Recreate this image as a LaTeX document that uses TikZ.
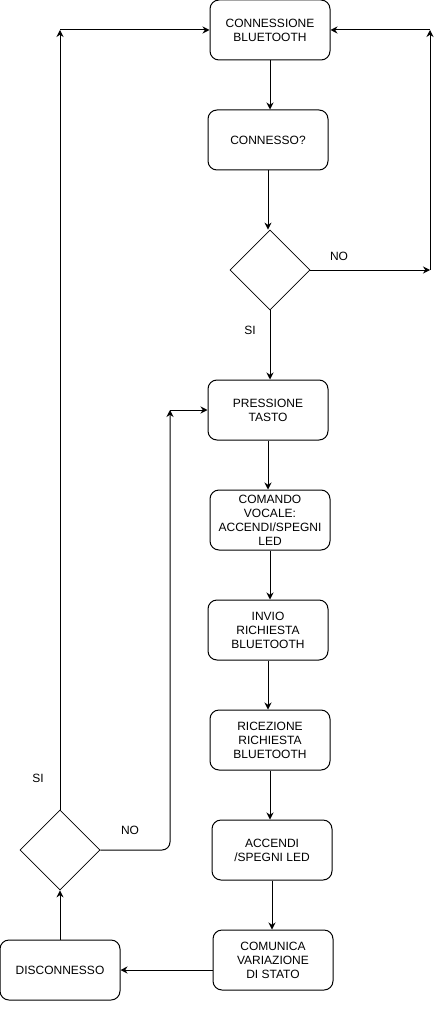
\documentclass[tikz,border=0pt]{standalone}
\usepackage{fontspec}
\setmainfont{Liberation Sans}
\usetikzlibrary{shapes.geometric,arrows.meta}

\begin{document}
\begin{tikzpicture}[x=1pt,y=-1pt, line width=1pt,
  every node/.style={font=\fontsize{12}{14}\selectfont, align=center},
  box/.style={draw, rounded corners=9pt, minimum width=120pt, minimum height=60pt, inner sep=2pt},
  decision/.style={draw, diamond, minimum width=80pt, minimum height=80pt, inner sep=0pt, line width=0.8pt},
  flow/.style={-{Stealth[length=7pt,width=7pt]}}]
  \useasboundingbox (0,0) rectangle (439,1011);

  % main column
  \node[box] (conn) at (270,30) {CONNESSIONE\\BLUETOOTH};
  \node[box] (check) at (268,140) {CONNESSO?};
  \node[decision] (isconn) at (270,270) {};
  \node[box] (press) at (268,410) {PRESSIONE\\TASTO};
  \node[box] (voice) at (270,520) {COMANDO\\VOCALE:\\ACCENDI/SPEGNI\\LED};
  \node[box] (send) at (268,630) {INVIO\\RICHIESTA\\BLUETOOTH};
  \node[box] (recv) at (270,740) {RICEZIONE\\RICHIESTA\\BLUETOOTH};
  \node[box] (led) at (272,850) {ACCENDI\\/SPEGNI LED};
  \node[box] (notify) at (273,960) {COMUNICA\\VARIAZIONE\\DI STATO};

  % left column
  \node[box] (disc) at (60,970) {DISCONNESSO};
  \node[decision] (again) at (60,850) {};

  % waypoints
  \coordinate (noright) at (430,270);
  \coordinate (noup) at (430,30);
  \coordinate (siup) at (60,30);
  \coordinate (noleft) at (170,410);

  \draw[flow] (conn.south) -- (conn.south |- check.north);
  \draw[flow] (check.south) -- (check.south |- isconn.north);
  \draw[flow] (isconn.south) -- (isconn.south |- press.north);
  \draw[flow] (press.south) -- (press.south |- voice.north);
  \draw[flow] (voice.south) -- (voice.south |- send.north);
  \draw[flow] (send.south) -- (send.south |- recv.north);
  \draw[flow] (recv.south) -- (recv.south |- led.north);
  \draw[flow] (led.south) -- (led.south |- notify.north);
  \draw[flow] (notify.west |- disc.east) -- (disc.east);
  \draw[flow] (disc.north) -- (again.south);

  % NO branch: retry the connection
  \draw[flow] (isconn.east) -- (noright);
  \draw[flow] (noright) -- (noup);
  \draw[flow] (noup) -- (conn.east);

  % SI branch: reconnect
  \draw[flow] (again.north) -- (siup);
  \draw[flow] (siup) -- (conn.west);

  % NO branch: back to button
  \draw[flow, rounded corners=8pt] (again.east) -| (noleft);
  \draw[flow] (noleft) -- (press.west);

  \node (lblno1) at (339,256) {NO};
  \node (lblsi1) at (250,330) {SI};
  \node (lblsi2) at (38,778) {SI};
  \node (lblno2) at (130,830) {NO};
\end{tikzpicture}
\end{document}
